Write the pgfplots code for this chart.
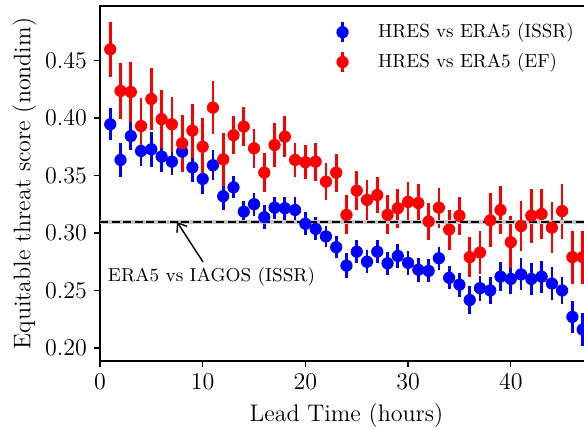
\documentclass[border=0pt]{standalone}
\usepackage{pgfplots}
\usepackage{pgfplotstable}
\pgfplotsset{compat=1.18}
\usetikzlibrary{arrows.meta}

\pgfplotstableread{
t b be r re
1 0.3945 0.014 0.4597 0.024
2 0.3635 0.0145 0.4235 0.024
3 0.3843 0.012 0.4226 0.0265
4 0.3713 0.013 0.393 0.024
5 0.3728 0.015 0.4165 0.027
6 0.3664 0.013 0.399 0.025
7 0.362 0.012 0.3945 0.024
8 0.3707 0.013 0.378 0.025
9 0.357 0.013 0.389 0.0235
10 0.347 0.013 0.375 0.025
11 0.3589 0.013 0.409 0.023
12 0.332 0.012 0.364 0.023
13 0.3397 0.0095 0.385 0.0165
14 0.3185 0.009 0.3925 0.017
15 0.325 0.010 0.3736 0.017
16 0.3137 0.0104 0.3525 0.017
17 0.322 0.0095 0.3765 0.019
18 0.3215 0.010 0.3837 0.018
19 0.320 0.011 0.3635 0.015
20 0.308 0.010 0.3615 0.015
21 0.3035 0.010 0.362 0.0165
22 0.297 0.009 0.3446 0.016
23 0.2876 0.0095 0.3525 0.0165
24 0.2716 0.011 0.3157 0.017
25 0.2837 0.010 0.3368 0.017
26 0.275 0.010 0.3287 0.017
27 0.2837 0.010 0.333 0.016
28 0.2736 0.010 0.3157 0.017
29 0.280 0.0105 0.3215 0.017
30 0.274 0.0105 0.327 0.017
31 0.268 0.0105 0.326 0.017
32 0.267 0.010 0.310 0.016
33 0.278 0.010 0.322 0.0174
34 0.261 0.010 0.303 0.0174
35 0.255 0.0105 0.315 0.0165
36 0.2417 0.012 0.279 0.0174
37 0.252 0.011 0.283 0.019
38 0.250 0.012 0.311 0.0235
39 0.262 0.0126 0.320 0.021
40 0.260 0.013 0.292 0.0226
41 0.264 0.014 0.306 0.022
42 0.260 0.014 0.315 0.0235
43 0.262 0.014 0.3165 0.022
44 0.256 0.014 0.3046 0.022
45 0.250 0.012 0.319 0.024
46 0.227 0.014 0.279 0.023
47 0.216 0.014 0.279 0.023
}\data

\begin{document}
\begin{tikzpicture}
\begin{axis}[
  scale only axis, width=246.5pt, height=177.5pt,
  xmin=0, xmax=48, ymin=0.1887, ymax=0.4974,
  xtick={0,10,20,30,40},
  ytick={0.2,0.25,0.3,0.35,0.4,0.45},
  yticklabel style={/pgf/number format/.cd, fixed, fixed zerofill, precision=2},
  tick align=outside, tick pos=left, major tick length=3pt,
  every tick/.style={black, line width=0.6pt},
  axis line style={line width=0.8pt},
  ticklabel style={font=\fontsize{11.5}{13}\selectfont},
  label style={font=\fontsize{12}{14}\selectfont},
  xlabel={Lead Time (hours)},
  ylabel={Equitable threat score (nondim)},
  ylabel style={yshift=-2.5pt},
  legend cell align=left,
  legend style={draw=none, fill=none, font=\fontsize{9.5}{11.2}\selectfont,
    at={(axis cs:22.4,0.4894)}, anchor=north west, row sep=2.3pt},
  legend image code/.code={
    \draw[line width=1.35pt] (0.3cm,-5pt) -- (0.3cm,5pt);
    \fill (0.3cm,0pt) circle (2.85pt);
    \path (0.3cm+15.6pt,0pt);
  },
]
\addplot[only marks, mark=*, mark size=2.85pt, color=blue, mark options={draw=none},
  error bars/.cd, y dir=both, y explicit, error mark=none,
  error bar style={line width=1.35pt, blue}]
  table[x=t, y=b, y error=be] {\data};
\addlegendentry{HRES vs ERA5 (ISSR)}
\addplot[only marks, mark=*, mark size=2.85pt, color=red, mark options={draw=none},
  error bars/.cd, y dir=both, y explicit, error mark=none,
  error bar style={line width=1.35pt, red}]
  table[x=t, y=r, y error=re] {\data};
\addlegendentry{HRES vs ERA5 (EF)}
\addplot[gray!45, line width=1.8pt, forget plot] coordinates {(0,0.3096) (48,0.3096)};
\addplot[black, line width=1.4pt, dash pattern=on 4pt off 1.8pt, forget plot] coordinates {(0,0.3096) (48,0.3096)};
\node[font=\fontsize{9.35}{11}\selectfont] at (axis cs:10.86,0.2617) {ERA5 vs IAGOS (ISSR)};
\draw[-{Straight Barb[length=4pt,width=6pt]}, line width=0.7pt] (axis cs:10.03,0.2748) -- (axis cs:7.5,0.3096);
\coordinate (bbl) at (axis cs:-9.737,0.1287);
\coordinate (btr) at (axis cs:47.13,0.5026);
\end{axis}
\pgfresetboundingbox
\path[use as bounding box] (bbl) rectangle (btr);
\end{tikzpicture}
\end{document}
